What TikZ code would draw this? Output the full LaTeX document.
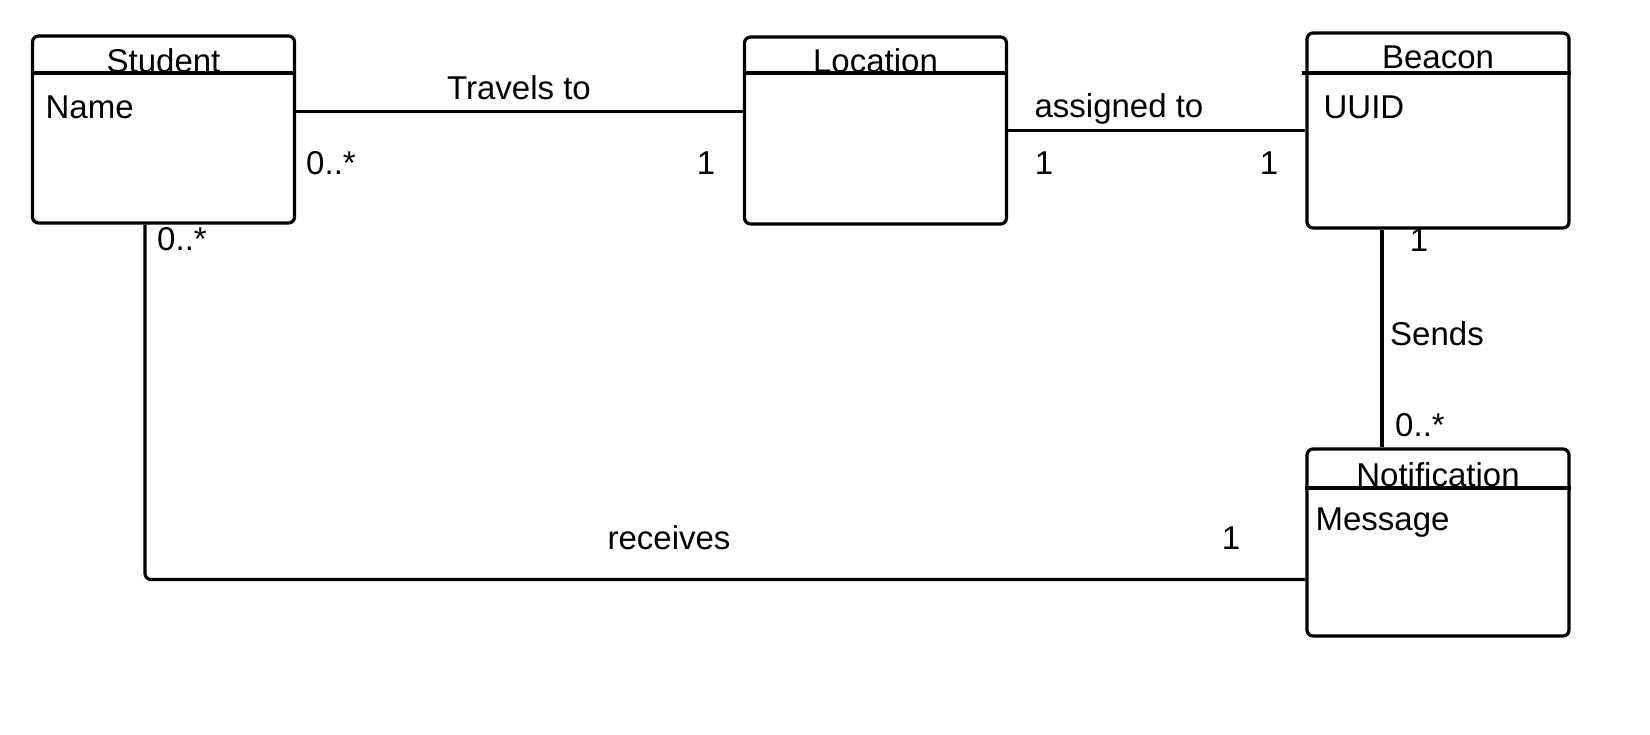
\documentclass[tikz,border=0pt]{standalone}
\usepackage{fontspec}
\setmainfont{Liberation Sans}
\usepackage{tikz}
\usetikzlibrary{calc}

\begin{document}
\begin{tikzpicture}[x=0.5pt,y=-0.5pt,line width=1.6pt,
  every node/.style={font=\fontsize{16.5}{20}\selectfont,inner sep=0pt},
  classbox/.style={draw,rounded corners=3pt,minimum width=131pt,minimum height=93.5pt},
  title/.style={anchor=base},
  attr/.style={anchor=base west},
  mult/.style={anchor=center}]
\useasboundingbox (0,0) rectangle (1650,734);
\pgfmathsetmacro{\hs}{73}
\pgfmathsetmacro{\hn}{488}
\node[classbox] (student) at (163.5,129.5) {};
\node[classbox] (location) at (875.5,130.5) {};
\node[classbox,minimum height=97.5pt] (beacon) at (1438,130.5) {};
\node[classbox] (notification) at (1438,542.5) {};
\draw (student.west |- 0,\hs) -- (student.east |- 0,\hs);
\draw (location.west |- 0,\hs) -- (location.east |- 0,\hs);
\draw (1302,\hs) -- (beacon.east |- 0,\hs);
\draw (notification.west |- 0,\hn) -- (notification.east |- 0,\hn);
\node[title] (studentT) at (163.5,\hs-1) {Student};
\node[title] (locationT) at (875.5,\hs-1) {Location};
\node[title] (beaconT) at (1438,\hs-5) {Beacon};
\node[title] (notificationT) at (1438,\hn-2) {Notification};
\node[attr] (studentA) at (44,118) {Name};
\node[attr] (beaconA) at (1322,118) {UUID};
\node[attr] (notificationA) at (1314,530) {Message};
\draw ([yshift=9pt]student.east) -- ([yshift=9pt]student.east -| location.west);
\draw (location.east) -- (beacon.west);
\draw ([xshift=-28pt]beacon.south) -- ([xshift=-28pt]notification.north);
\draw[rounded corners=3pt] ([xshift=-9.25pt]student.south) |- ([yshift=-18.5pt]notification.west);
\node[mult] (travels) at (519,88) {Travels to};
\node[mult] (m1) at (331,163) {0..*};
\node[mult] (m2) at (706,163) {1};
\node[mult] (assigned) at (1119,109) {assigned to};
\node[mult] (m3) at (1044,163) {1};
\node[mult] (m4) at (1269,163) {1};
\node[mult] (m5) at (1419,240) {1};
\node[mult] (sends) at (1437,334) {Sends};
\node[mult] (m6) at (1420,425) {0..*};
\node[mult] (m7) at (182,239) {0..*};
\node[mult] (receives) at (669,538) {receives};
\node[mult] (m8) at (1231,538) {1};
\end{tikzpicture}
\end{document}
